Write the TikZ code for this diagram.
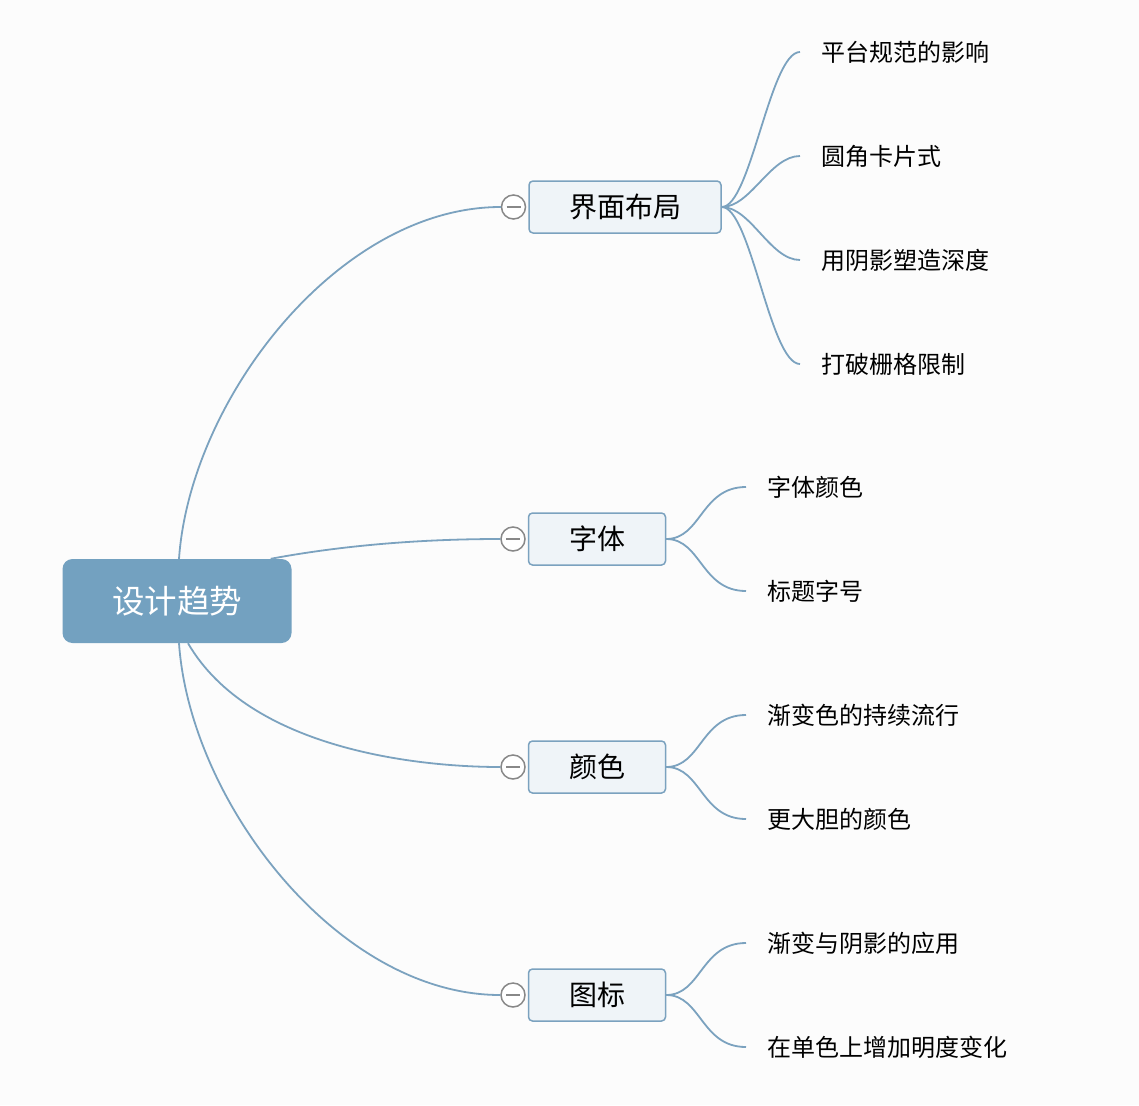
\documentclass[tikz,border=0pt]{standalone}
\usepackage{fontspec}
\newfontfamily\cjk{Noto Sans CJK SC}
\usepackage{xcolor}
\definecolor{rootblue}{HTML}{73A1C0}
\definecolor{linkblue}{HTML}{7BA2BF}
\definecolor{boxfill}{HTML}{EFF4F8}
\definecolor{bgpaper}{HTML}{FCFCFC}
\definecolor{knobgray}{HTML}{888888}
\usetikzlibrary{positioning}

\begin{document}
\begin{tikzpicture}[x=1pt, y=-1pt,
    rootbox/.style={rectangle, rounded corners=10pt, fill=rootblue, text=white,
        minimum width=229pt, minimum height=84pt, font=\cjk\fontsize{32.5}{38}\selectfont},
    topicbox/.style={rectangle, rounded corners=4pt, draw=linkblue, fill=boxfill, line width=1.5pt,
        minimum height=52pt, font=\cjk\fontsize{28}{33}\selectfont},
    knob/.style={circle, draw=knobgray, fill=white, line width=1.5pt, minimum size=24pt, inner sep=0pt},
    leaf/.style={anchor=west, inner xsep=21pt, inner ysep=2pt, font=\cjk\fontsize{24}{29}\selectfont},
    link/.style={draw=linkblue, line width=1.8pt}]

    % Background
    \fill[bgpaper] (0,0) rectangle (1139,1105);

    % Root
    \node (root) [rootbox] at (177,601) {设计趋势};

    % Topics
    \node (layout) [topicbox, minimum width=192pt] at (625,207) {界面布局};
    \node (type) [topicbox, minimum width=137pt] at (597,539) {字体};
    \node (color) [topicbox, minimum width=137pt] at (597,767) {颜色};
    \node (icon) [topicbox, minimum width=137pt] at (597,995) {图标};

    % Collapse knobs
    \foreach \t/\k in {layout/k1, type/k2, color/k3, icon/k4}
        \node (\k) [knob, left=2pt of \t.west] {};
    \foreach \k in {k1, k2, k3, k4}
        \draw[knobgray, line width=1.5pt] ([xshift=-7pt]\k.center) -- ([xshift=7pt]\k.center);

    % Leaves
    \node (l11) [leaf] at (800,52) {平台规范的影响};
    \node (l12) [leaf] at (800,156) {圆角卡片式};
    \node (l13) [leaf] at (800,260) {用阴影塑造深度};
    \node (l14) [leaf] at (800,364) {打破栅格限制};
    \node (l21) [leaf] at (746,487) {字体颜色};
    \node (l22) [leaf] at (746,591) {标题字号};
    \node (l31) [leaf] at (746,715) {渐变色的持续流行};
    \node (l32) [leaf] at (746,819) {更大胆的颜色};
    \node (l41) [leaf] at (746,943) {渐变与阴影的应用};
    \node (l42) [leaf] at (746,1047) {在单色上增加明度变化};

    % Root to topics
    \path[link] ([xshift=2pt]root.north) .. controls (190,400) and (338,207) .. (k1.west);
    \path[link] ([xshift=-21pt]root.north east) .. controls (350,544) and (430,539) .. (k2.west);
    \path[link] ([xshift=11pt]root.south) .. controls (250,750) and (420,767) .. (k3.west);
    \path[link] ([xshift=2pt]root.south) .. controls (190,802) and (338,995) .. (k4.west);

    % Topics to leaves
    \foreach \l in {l11, l12, l13, l14}
        \path[link] (layout.east) .. controls +(29,0) and ([xshift=-30pt]\l.west) .. (\l.west);
    \foreach \t/\l in {type/l21, type/l22, color/l31, color/l32, icon/l41, icon/l42}
        \path[link] (\t.east) .. controls +(35,0) and ([xshift=-45pt]\l.west) .. (\l.west);

\end{tikzpicture}
\end{document}
